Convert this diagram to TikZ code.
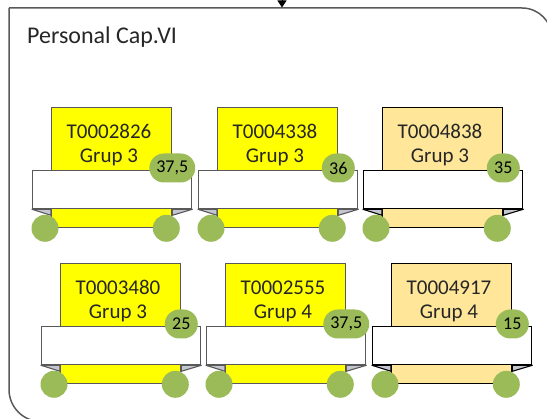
\documentclass[tikz,border=0pt]{standalone}
\usepackage{fontspec}
\setmainfont{Carlito}
\usetikzlibrary{arrows.meta,positioning,calc}
\definecolor{cardyel}{HTML}{FFFF00}
\definecolor{cardsand}{HTML}{FFE699}
\definecolor{wheelgrn}{HTML}{9BBB59}
\definecolor{framegray}{HTML}{595959}
\definecolor{foldgray}{HTML}{C3C6CE}
\tikzset{
  >={Triangle[length=7pt,width=9pt]},
  % marc
  frame/.style={draw=framegray,line width=1.5pt},
  title/.style={font=\fontsize{24}{28}\selectfont,text=black!85,inner sep=0pt},
  % fitxes
  body/.style={line width=1.3pt,minimum size=120pt,inner sep=0pt,anchor=north west},
  lbl/.style={font=\fontsize{21}{24}\selectfont,align=center,text=black!85,inner sep=0pt},
  band/.style={fill=white,line width=1.3pt,minimum width=159pt,minimum height=38pt,
               inner sep=0pt,anchor=north west},
  fold/.style={fill=foldgray,line width=1.1pt,line join=round},
  badge/.style={fill=wheelgrn,rounded corners=14.5pt,minimum height=29pt,minimum width=33pt,
                inner xsep=7pt,inner ysep=0pt,font=\fontsize{18}{20}\selectfont},
  wheel/.style={circle,fill=wheelgrn,minimum size=27pt,inner sep=0pt},
}
\begin{document}
\begin{tikzpicture}[x=1pt,y=-1pt]
\useasboundingbox (0,0) rectangle (547,419);
  \draw[frame,rounded corners=30pt] (9,8) -- (552,8) -- (552,470);
  \draw[frame,rounded corners=32pt] (9,8) -- (9,421.5) -- (570,421.5);
  \coordinate (src) at (282,-4);
  \coordinate (dst) at (282,7.5);
  \draw[->,line width=1pt] (src) -- (dst);
  \node[title,anchor=base west] (ttl) at (27,44) {Personal Cap.VI};
  \foreach \i/\x/\y/\f/\e/\id/\g/\v in {
      1/51/107/cardyel/framegray/T0002826/3/{37,5},
      2/217/107/cardyel/framegray/T0004338/3/36,
      3/382/107/cardsand/black/T0004838/3/35,
      4/60/263/cardyel/framegray/T0003480/3/25,
      5/225/263/cardyel/framegray/T0002555/4/{37,5},
      6/391/263/cardsand/black/T0004917/4/15}{
    \node[body,fill=\f,draw=\e] (k\i) at (\x,\y) {};
    \node[lbl] (t\i) at ($(k\i.north west)+(58,38)$) {\id\\Grup \g};
    \node[band,draw=\e] (r\i) at ($(k\i.north west)+(-19,63)$) {};
    \filldraw[fold,draw=\e] (r\i.south west) -- (r\i.south west -| k\i.west)
      -- ($(r\i.south west -| k\i.west)+(0,6)$) -- cycle;
    \filldraw[fold,draw=\e] (r\i.south east) -- (r\i.south east -| k\i.east)
      -- ($(r\i.south east -| k\i.east)+(0,6)$) -- cycle;
    \node[badge] (v\i) at ($(k\i.north east)+(0,61)$) {\v};
    \node[wheel] (wa\i) at ($(k\i.south west)+(-6,0)$) {};
    \node[wheel] (wb\i) at ($(k\i.south east)+(-6,0)$) {};
  }
\end{tikzpicture}
\end{document}
